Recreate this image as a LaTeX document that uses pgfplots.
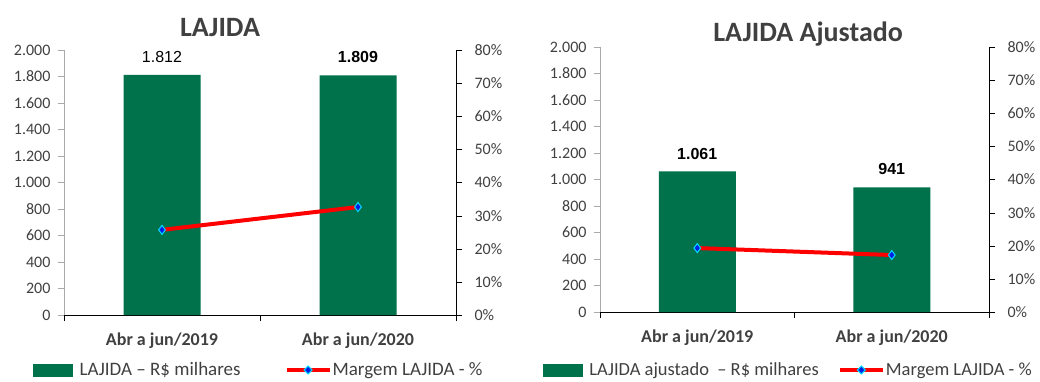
\documentclass[border=0pt]{standalone}
\usepackage{fontspec}
\setmainfont{Carlito}
\newfontfamily\arialf{Liberation Sans}
\usepackage{pgfplots}
\pgfplotsset{compat=1.18}
\definecolor{bargreen}{RGB}{0,114,75}
\definecolor{txtgray}{RGB}{64,64,64}
\definecolor{axgray}{RGB}{170,170,170}
\definecolor{mkblue}{RGB}{0,30,230}
\definecolor{mkcyan}{RGB}{0,220,255}
\pgfplotsset{
  base/.style={scale only axis, height=265pt, xmin=-0.5, xmax=1.5, ymin=0,
    /pgf/number format/assume math mode=true,
    tick align=outside, major tick length=6pt,
    ticklabel style={font=\fontsize{16}{19}\selectfont, text=txtgray},
  },
  barax/.style={base, axis x line*=bottom, axis y line*=left, ymax=2000,
    ytick={0,200,...,2000}, /pgf/number format/1000 sep={.},
    yticklabel style={xshift=-4pt},
    y axis line style={draw=axgray,-}, x axis line style={draw=black,-,line width=0.8pt},
    ytick style={draw=axgray},
    xtick={-0.5,0.5,1.5}, x tick label as interval,
    xtick style={draw=black, line width=0.8pt},
    xticklabels={Abr a jun/2019, Abr a jun/2020},
    xticklabel style={font=\bfseries\fontsize{18}{21}\selectfont, text=txtgray, yshift=-8pt},
    nodes near coords, point meta=explicit symbolic,
    every node near coord/.style={font=\arialf\fontsize{16}{19}\selectfont, text=black, anchor=south, inner sep=0pt, yshift=12pt},
  },
  lineax/.style={base, axis x line=none, axis y line*=right, ymax=80,
    ytick={0,10,...,80}, yticklabel={\pgfmathprintnumber{\tick}\%},
    yticklabel style={xshift=9pt},
    y axis line style={draw=black,-, line width=0.8pt}, ytick style={draw=black},
    legend columns=2,
    legend style={draw=none, fill=none, inner sep=0pt, anchor=west,
      text=txtgray,
      /tikz/column 1/.append style={column sep=5pt},
      /tikz/column 3/.append style={column sep=-1pt}},
  },
  barimg/.style={legend image code/.code={\fill[bargreen] (0pt,-6pt) rectangle (39pt,6pt);}},
  lineimg/.style={legend image code/.code={\draw[red,line width=4pt] (0pt,0pt) -- (43pt,0pt);
     \filldraw[fill=mkblue, draw=mkcyan, line width=1pt] (17.5pt,0pt) -- (21.5pt,4pt) -- (25.5pt,0pt) -- (21.5pt,-4pt) -- cycle;}},
  mline/.style={red, line width=4pt, mark=diamond*, mark size=4.5pt,
     mark options={fill=mkblue, draw=mkcyan, line width=1pt}},
}
\begin{document}
\begin{tikzpicture}
\useasboundingbox (0,0) rectangle (1040pt,381pt);
% ---------- left chart ----------
\begin{axis}[barax, width=392pt, at={(64pt,66pt)}, anchor=south west,
  title={LAJIDA}, title style={font=\bfseries\fontsize{28}{32}\selectfont, text=txtgray, at={(0.398,1.062)}, anchor=center}]
\addplot[ybar, bar width=77pt, fill=bargreen, draw=none] coordinates {(0,1812) [1.812] (1,1809) [\textbf{1.809}]};
\end{axis}
\begin{axis}[lineax, width=392pt, at={(64pt,66pt)}, anchor=south west,
  legend style={at={(-0.079,-0.2075)}, font=\fontsize{19}{22}\selectfont,
    /tikz/column 2/.append style={column sep=42pt}}]
\addlegendimage{barimg}
\addlegendentry{LAJIDA – R\$ milhares}
\addlegendimage{lineimg}
\addlegendentry{Margem LAJIDA - \%}
\addplot[mline, forget plot] coordinates {(0,25.7) (1,32.6)};
\end{axis}
% ---------- right chart ----------
\begin{axis}[barax, width=389pt, at={(600pt,69pt)}, anchor=south west,
  title={LAJIDA Ajustado}, title style={font=\bfseries\fontsize{28}{32}\selectfont, text=txtgray, at={(0.535,1.025)}, anchor=center}]
\addplot[ybar, bar width=77pt, fill=bargreen, draw=none] coordinates {(0,1061) [\textbf{1.061}] (1,941) [\textbf{941}]};
\end{axis}
\begin{axis}[lineax, width=389pt, at={(600pt,69pt)}, anchor=south west,
  legend style={at={(-0.147,-0.219)}, font=\fontsize{18.5}{22}\selectfont,
    /tikz/column 2/.append style={column sep=17pt}}]
\addlegendimage{barimg}
\addlegendentry{LAJIDA ajustado \ – R\$ milhares}
\addlegendimage{lineimg}
\addlegendentry{Margem LAJIDA - \%}
\addplot[mline, forget plot] coordinates {(0,19.3) (1,17.2)};
\end{axis}
\end{tikzpicture}
\end{document}
